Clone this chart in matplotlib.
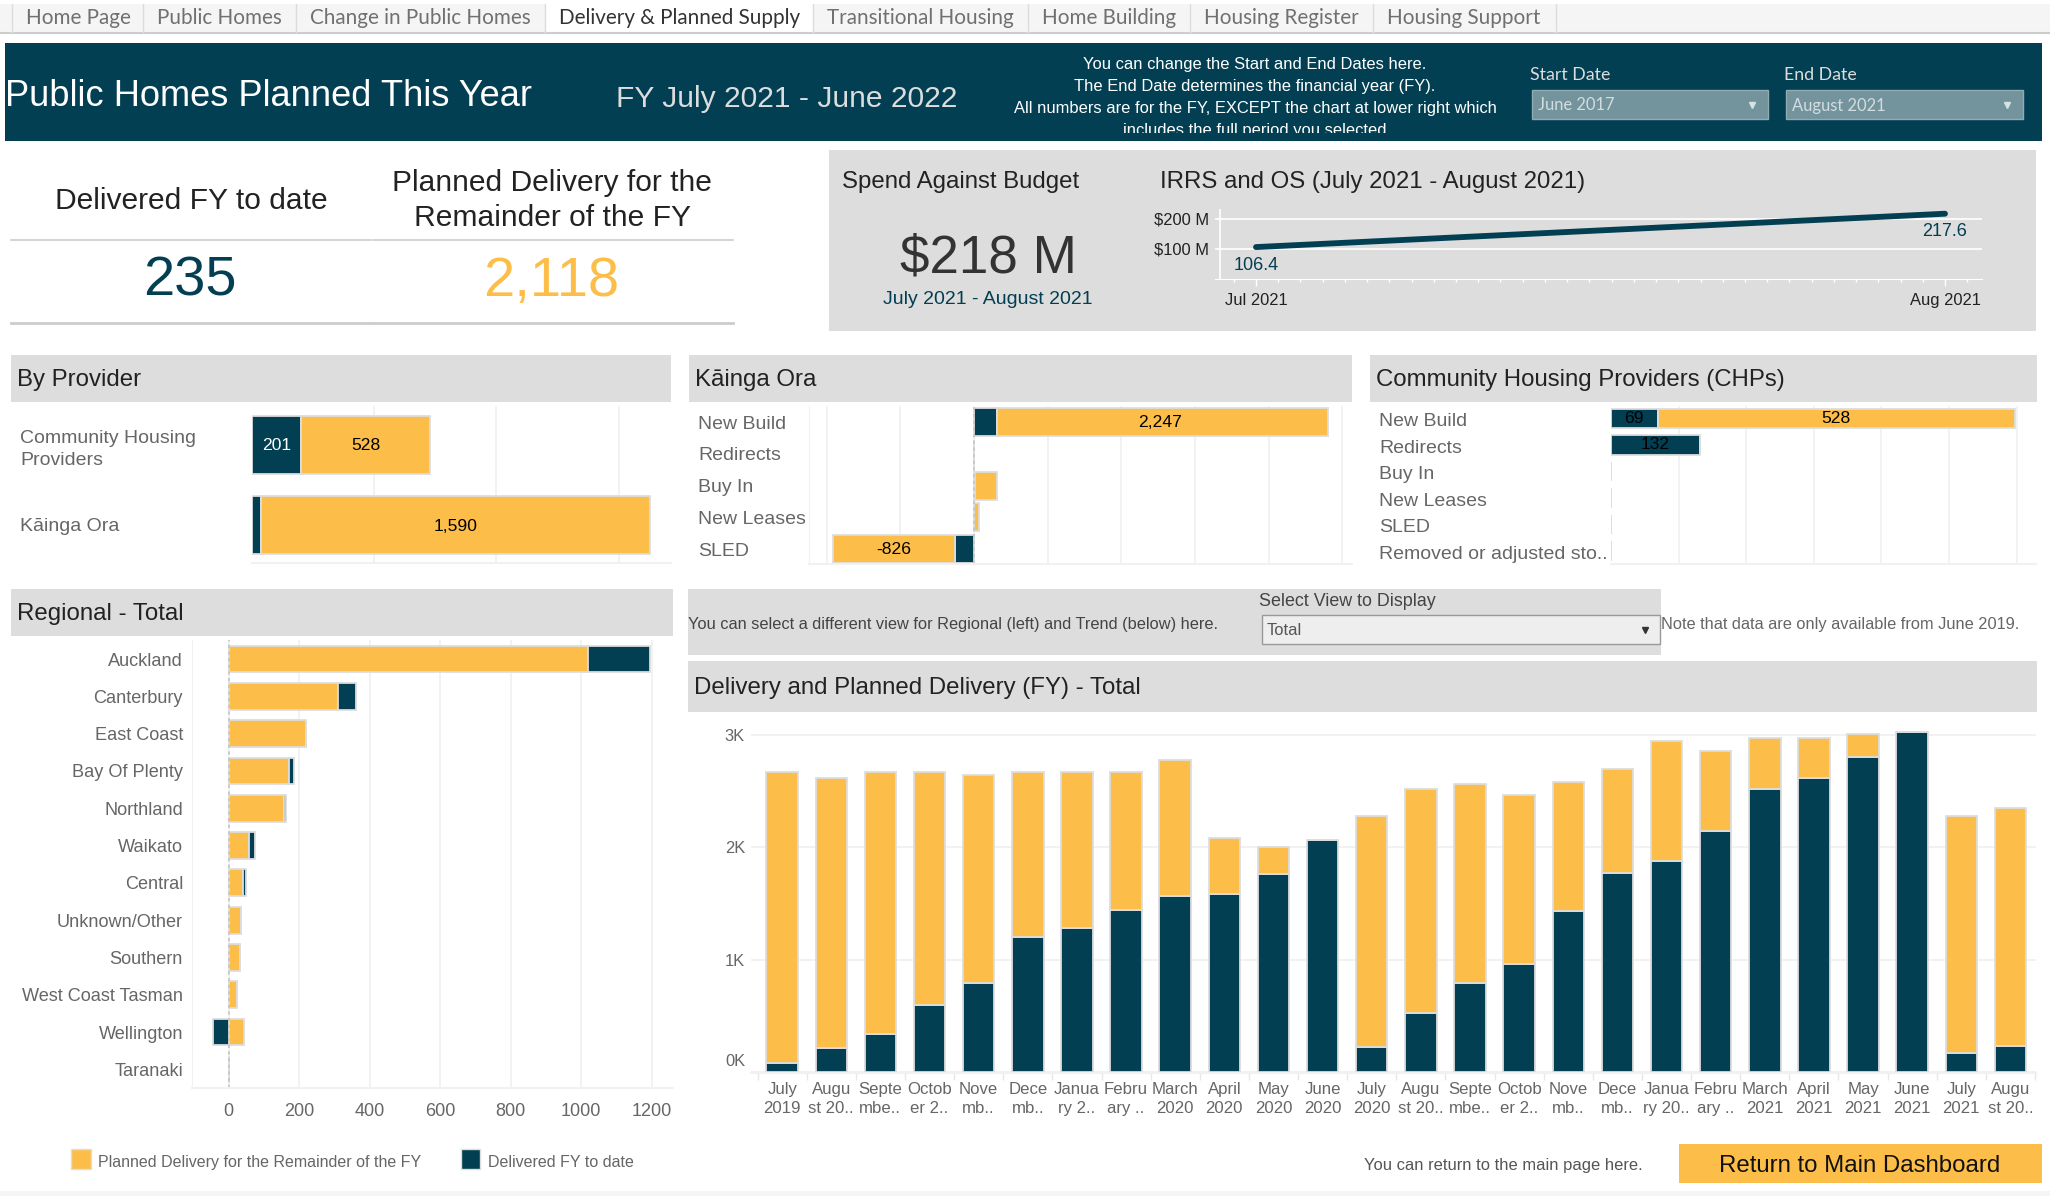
import numpy as np
import matplotlib
matplotlib.use("Agg")
import matplotlib.pyplot as plt
from matplotlib.patches import Rectangle

plt.rcParams['font.family'] = ['Liberation Sans', 'DejaVu Sans']

W, H = 2050, 1196
YELLOW = '#fdbe49'
DARK = '#023f52'
GREY = '#dddddd'
GRID = '#f1f1f1'
TXT = '#666666'

# data
provider_names = ['Community Housing\nProviders', 'Kāinga Ora']
provider_delivered = [201, 38]
provider_planned = [528, 1590]

kainga_names = ['New Build', 'Redirects', 'Buy In', 'New Leases', 'SLED']
kainga_delivered = [156, 0, 8, 3, -130]
kainga_planned = [2247, 0, 145, 30, -826]

chp_names = ['New Build', 'Redirects', 'Buy In', 'New Leases', 'SLED', 'Removed or adjusted sto..']
chp_delivered = [69, 132, 0, 0, 0, 0]
chp_planned = [528, 0, 0, 0, 0, 0]

region_names = ['Auckland', 'Canterbury', 'East Coast', 'Bay Of Plenty', 'Northland', 'Waikato',
                'Central', 'Unknown/Other', 'Southern', 'West Coast Tasman', 'Wellington', 'Taranaki']
region_planned = [1018, 310, 220, 170, 156, 58, 41, 35, 33, 25, 45, 0]
region_delivered = [178, 50, 0, 16, 7, 16, 7, 0, 0, 0, -43, 0]

month_labels = ['July\n2019', 'Augu\nst 20..', 'Septe\nmbe..', 'Octob\ner 2..', 'Nove\nmb..', 'Dece\nmb..',
                'Janua\nry 2..', 'Febru\nary ..', 'March\n2020', 'April\n2020', 'May\n2020', 'June\n2020',
                'July\n2020', 'Augu\nst 20..', 'Septe\nmbe..', 'Octob\ner 2..', 'Nove\nmb..', 'Dece\nmb..',
                'Janua\nry 20..', 'Febru\nary ..', 'March\n2021', 'April\n2021', 'May\n2021', 'June\n2021',
                'July\n2021', 'Augu\nst 20..']
month_delivered = [83, 217, 335, 593, 789, 1205, 1285, 1445, 1564, 1587, 1766, 2062,
                   225, 522, 789, 964, 1430, 1776, 1880, 2148, 2516, 2620, 2807, 3030, 172, 235]
month_planned = [2590, 2403, 2338, 2080, 1858, 1468, 1388, 1228, 1216, 499, 240, 0,
                 2051, 1994, 1779, 1506, 1150, 926, 1071, 714, 454, 356, 199, 0, 2104, 2118]

spend_months = ['Jul 2021', 'Aug 2021']
spend_values = [106.4, 217.6]

tab_names = ['Home Page', 'Public Homes', 'Change in Public Homes', 'Delivery & Planned Supply',
             'Transitional Housing', 'Home Building', 'Housing Register', 'Housing Support']
tab_edges = [12, 143, 296, 545, 813, 1028, 1190, 1373, 1556]


def fs(px):
    return px * 0.72


fig = plt.figure(figsize=(W / 100, H / 100), dpi=100, facecolor='white')

# whole page axes in pixels, for panels and loose text
bg = fig.add_axes([0, 0, 1, 1], zorder=0)
bg.set_xlim(0, W)
bg.set_ylim(H, 0)
bg.axis('off')


def box(x0, y0, x1, y1, color, **kw):
    r = Rectangle((x0, y0), x1 - x0, y1 - y0, facecolor=color, edgecolor=kw.pop('edge', 'none'), **kw)
    bg.add_patch(r)
    return r


def txt(x, y, s, px=16, color=TXT, ha='left', **kw):
    return bg.text(x, y, s, fontsize=fs(px), color=color, ha=ha, va='center_baseline', **kw)


def chart(x0, y0, x1, y1):
    a = fig.add_axes([x0 / W, 1 - y1 / H, (x1 - x0) / W, (y1 - y0) / H], zorder=2)
    a.patch.set_alpha(0)
    for s in a.spines.values():
        s.set_visible(False)
    a.tick_params(length=0)
    a.set_axisbelow(True)
    return a


# tabs
box(0, 4, W, 33, '#f5f5f5')
bg.plot([0, W], [33, 33], color='#cccccc', lw=1.5)
for i, name in enumerate(tab_names):
    active = name.startswith('Delivery')
    if active:
        box(tab_edges[i], 4, tab_edges[i + 1], 34.5, 'white')
    bg.plot([tab_edges[i + 1]] * 2, [4, 33], color='#dcdcdc', lw=1)
    txt(tab_edges[i] + 14, 16.5, name, px=20.7, color='#333333' if active else '#707070', family='Lato')
bg.plot([tab_edges[0]] * 2, [4, 33], color='#dcdcdc', lw=1)

# header band
box(5, 43, 2042, 141, DARK)
txt(5, 92, 'Public Homes Planned This Year', px=36.2, color='white')
txt(616, 96, 'FY July 2021 - June 2022', px=30, color='#dddddd')
note_lines = ['You can change the Start and End Dates here.',
              'The End Date determines the financial year (FY).',
              'All numbers are for the FY, EXCEPT the chart at lower right which',
              'includes the full period you selected']
for y, line in zip([63, 85.5, 107.5, 129], note_lines):
    t = txt(1255, y, line, px=16.5, color='white', ha='center')
    t.set_clip_on(True)
    t.set_clip_path(Rectangle((0, 43), W, 90, transform=bg.transData))
txt(1530, 73, 'Start Date', px=17.8, color='#dddddd', family='Lato')
txt(1784, 73, 'End Date', px=17.8, color='#dddddd', family='Lato')
for x0, x1, label in [(1531.5, 1768, 'June 2017'), (1786, 2023, 'August 2021')]:
    box(x0, 90, x1, 119, '#73939d', edge='#92abb3', lw=1)
    txt(x0 + 6, 104, label, px=16.5, color='#d3dde0', family='Lato')
    bg.plot([x1 - 16], [105], marker='v', ms=5, color='#d8e2e5', ls='none')

# totals
for x0, x1 in [(11, 371), (373, 733)]:
    bg.plot([x0, x1], [240, 240], color='#cccccc', lw=1.2)
    bg.plot([x0, x1], [323, 323], color='#cccccc', lw=2)
txt(191, 198, 'Delivered FY to date', px=30, color='#222222', ha='center')
txt(552, 180, 'Planned Delivery for the', px=30, color='#222222', ha='center')
txt(552, 215, 'Remainder of the FY', px=30, color='#222222', ha='center')
txt(190, 276, '235', px=56, color=DARK, ha='center')
txt(551, 276, '2,118', px=56, color=YELLOW, ha='center')

# spend panel
box(829, 150, 2036, 331, GREY)
txt(842, 179.5, 'Spend Against Budget', px=24, color='#222222')
txt(988, 253, '$218 M', px=53, color='#333333', ha='center')
txt(988, 297, 'July 2021 - August 2021', px=19.5, color=DARK, ha='center')
txt(1160, 179.5, 'IRRS and OS (July 2021 - August 2021)', px=24, color='#222222')

ax = chart(1214.5, 209, 1982, 279)
ax.set_xlim((1214.5 - 1256) / 689, (1982 - 1256) / 689)
ax.set_ylim(0, 233.3)
ax.plot([0, 1], spend_values, color=DARK, lw=4.2, solid_capstyle='round')
ax.yaxis.grid(True, color='white', lw=1.2)
ax.spines['bottom'].set_visible(True)
ax.spines['bottom'].set_color('white')
ax.set_yticks([100, 200], ['$100 M', '$200 M'], fontsize=fs(16.5), color='#222222')
ax.tick_params(axis='y', pad=4)
ax.set_xticks([0, 1], spend_months, fontsize=fs(16.5), color='#222222')
ax.set_xticks(np.arange(-1, 33) / 31, minor=True)
ax.tick_params(axis='x', which='major', length=5, color='white', width=1, pad=5)
ax.tick_params(axis='x', which='minor', length=2.5, color='white', width=1)
ax.set_xlim((1214.5 - 1256) / 689, (1982 - 1256) / 689)
ax.axvline((1220 - 1256) / 689, color='white', lw=1.2)
ax.annotate(f'{spend_values[0]}', (0, spend_values[0]), xytext=(0, -18 * 0.72), textcoords='offset points',
            ha='center', va='center', fontsize=fs(18), color=DARK, annotation_clip=False)
ax.annotate(f'{spend_values[1]}', (1, spend_values[1]), xytext=(0, -18 * 0.72), textcoords='offset points',
            ha='center', va='center', fontsize=fs(18), color=DARK, annotation_clip=False)

# section headers
for x0, y0, x1, y1, label in [(11, 355, 671, 402, 'By Provider'),
                              (689, 355, 1352, 402, 'Kāinga Ora'),
                              (1370, 355, 2037, 402, 'Community Housing Providers (CHPs)'),
                              (11, 589, 673, 636, 'Regional - Total'),
                              (688, 661, 2037, 712, 'Delivery and Planned Delivery (FY) - Total')]:
    box(x0, y0, x1, y1, GREY)
    txt(x0 + 6, (y0 + y1) / 2 - 1, label, px=24, color='#222222')


def hbars(a, first, second, first_color, second_color, height):
    # stacked horizontally, the second segment starts where the first ends
    y = np.arange(len(first))
    a.barh(y, first, height, color=first_color, edgecolor=GREY, lw=1.3)
    a.barh(y, second, height, left=first, color=second_color, edgecolor=GREY, lw=1.3)
    return y


def light_frame(a):
    a.spines['bottom'].set_visible(True)
    a.spines['bottom'].set_color(GRID)
    a.spines['bottom'].set_linewidth(1.5)
    a.xaxis.grid(True, color=GRID, lw=1.3)


# by provider
ax = chart(252, 406, 671, 563)
ax.set_xlim(0, 419 / 0.2445)
ax.set_ylim(1.48, -0.49)
y = hbars(ax, provider_delivered, provider_planned, DARK, YELLOW, 0.73)
light_frame(ax)
ax.set_xticks([500, 1000, 1500], [])
ax.set_yticks(y, provider_names, fontsize=fs(19.5), color=TXT, ha='left', linespacing=1.4)
ax.tick_params(axis='y', pad=fs(232))
ax.text(provider_delivered[0] / 2, 0, str(provider_delivered[0]), color='white', fontsize=fs(17.5), ha='center', va='center')
ax.text(provider_delivered[0] + provider_planned[0] / 2, 0, str(provider_planned[0]), color='black', fontsize=fs(17.5), ha='center', va='center')
ax.text(provider_delivered[1] + provider_planned[1] / 2, 1.02, f'{provider_planned[1]:,}', color='black', fontsize=fs(17.5), ha='center', va='center')

# kainga ora
ax = chart(809, 406, 1352, 564)
ax.set_xlim(-165 / 0.1473, 378 / 0.1473)
ax.set_ylim(4.47, -0.505)
ax.axvline(0, color='#c4c4c4', lw=1.2, ls=(0, (2, 2)))
y = hbars(ax, kainga_delivered, kainga_planned, DARK, YELLOW, 0.88)
light_frame(ax)
ax.spines['left'].set_visible(True)
ax.spines['left'].set_color(GRID)
ax.set_xticks(np.arange(-1000, 2600, 500), [])
ax.set_yticks(y, kainga_names, fontsize=fs(19.5), color=TXT, ha='left')
ax.tick_params(axis='y', pad=fs(111))
ax.text(kainga_delivered[0] + kainga_planned[0] / 2 - 15, 0, f'{kainga_planned[0]:,}', color='black', fontsize=fs(17.5), ha='center', va='center')
ax.text(kainga_delivered[4] + kainga_planned[4] / 2, 4, str(kainga_planned[4]), color='black', fontsize=fs(17.5), ha='center', va='center')

# chps
ax = chart(1611, 406, 2036, 564)
ax.set_xlim(0, 425 / 0.676)
ax.set_ylim(5.49, -0.47)
y = hbars(ax, chp_delivered, chp_planned, DARK, YELLOW, 0.72)
light_frame(ax)
ax.set_xticks(np.arange(100, 700, 100), [])
ax.set_yticks(y + 0.05, chp_names, fontsize=fs(19.5), color=TXT, ha='left')
ax.tick_params(axis='y', pad=fs(232))
ax.text(chp_delivered[0] / 2, 0, str(chp_delivered[0]), color='black', fontsize=fs(17.5), ha='center', va='center')
ax.text(chp_delivered[0] + chp_planned[0] / 2, 0, str(chp_planned[0]), color='black', fontsize=fs(17.5), ha='center', va='center')
ax.text(chp_delivered[1] / 2, 1, str(chp_delivered[1]), color='black', fontsize=fs(17.5), ha='center', va='center')

# regional
ax = chart(191.5, 640.4, 673, 1088)
ax.set_xlim(-37.1 / 0.3526, 444.4 / 0.3526)
ax.set_ylim(11.5, -0.5)
ax.axvline(0, color='#c4c4c4', lw=1.2, ls=(0, (2, 2)))
yy = np.arange(len(region_names))
ax.barh(yy, region_planned, 0.72, color=YELLOW, edgecolor=GREY, lw=1.3)
# delivered sits on top of planned, except where it is negative
lefts = [p if d >= 0 else 0 for p, d in zip(region_planned, region_delivered)]
ax.barh(yy, region_delivered, 0.72, left=lefts, color=DARK, edgecolor=GREY, lw=1.3)
light_frame(ax)
ax.spines['left'].set_visible(True)
ax.spines['left'].set_color(GRID)
ax.set_xticks(np.arange(0, 1400, 200))
ax.tick_params(axis='x', labelsize=fs(18), labelcolor=TXT, pad=10.5)
ax.set_yticks(yy, region_names, fontsize=fs(18.2), color=TXT)
ax.tick_params(axis='y', pad=fs(8.5))

# legend
box(70.5, 1149, 90.6, 1169, YELLOW, edge=GREY, lw=1)
txt(98, 1161, 'Planned Delivery for the Remainder of the FY', px=16)
box(460.7, 1149, 480, 1169, DARK, edge=GREY, lw=1)
txt(488, 1161, 'Delivered FY to date', px=16)

# view selector
box(688, 589, 1661, 655, GREY)
txt(688, 623, 'You can select a different view for Regional (left) and Trend (below) here.', px=16.4, color='#444444')
txt(1259, 599, 'Select View to Display', px=17.9, color='#444444')
box(1262, 615, 1660, 644, '#eeeeee', edge='#999999', lw=1)
txt(1267, 629, 'Total', px=16.5, color='#555555')
bg.plot([1645], [630], marker='v', ms=5, color='#333333', ls='none')
txt(1661, 623, 'Note that data are only available from June 2019.', px=16.4)

# monthly trend
ax = chart(751, 726, 2036, 1073)
ax.set_xlim(-0.634, 25.52)
ax.set_ylim(-8, 3081)
xs = np.arange(len(month_labels))
ax.bar(xs, month_delivered, 0.64, color=DARK, edgecolor=GREY, lw=1.3)
ax.bar(xs, month_planned, 0.64, bottom=month_delivered, color=YELLOW, edgecolor=GREY, lw=1.3)
ax.yaxis.grid(True, color=GRID, lw=1.3)
ax.spines['bottom'].set_visible(True)
ax.spines['bottom'].set_color(GRID)
ax.spines['bottom'].set_linewidth(1.5)
ax.set_yticks([0, 1000, 2000, 3000], ['', '1K', '2K', '3K'], fontsize=fs(16.5), color=TXT)
ax.tick_params(axis='y', pad=fs(6))
ax.set_xticks(xs, month_labels, fontsize=fs(16.8), color=TXT, linespacing=1.3)
ax.tick_params(axis='x', which='major', pad=6.5)
ax.set_xticks(np.arange(-0.5, 26, 1), minor=True)
ax.tick_params(axis='x', which='minor', length=fs(7), color='#e8e8e8', width=1)
txt(745.5, 1060, '0K', px=16.5, ha='right')

# footer
txt(1364, 1164, 'You can return to the main page here.', px=16.5, color='#555555')
box(1679, 1144, 2042, 1183, YELLOW)
txt(1860, 1163, 'Return to Main Dashboard', px=24, color='#111111', ha='center')
box(0, 1191, W, H, '#f5f5f5')

fig.savefig('out.png', dpi=100)
